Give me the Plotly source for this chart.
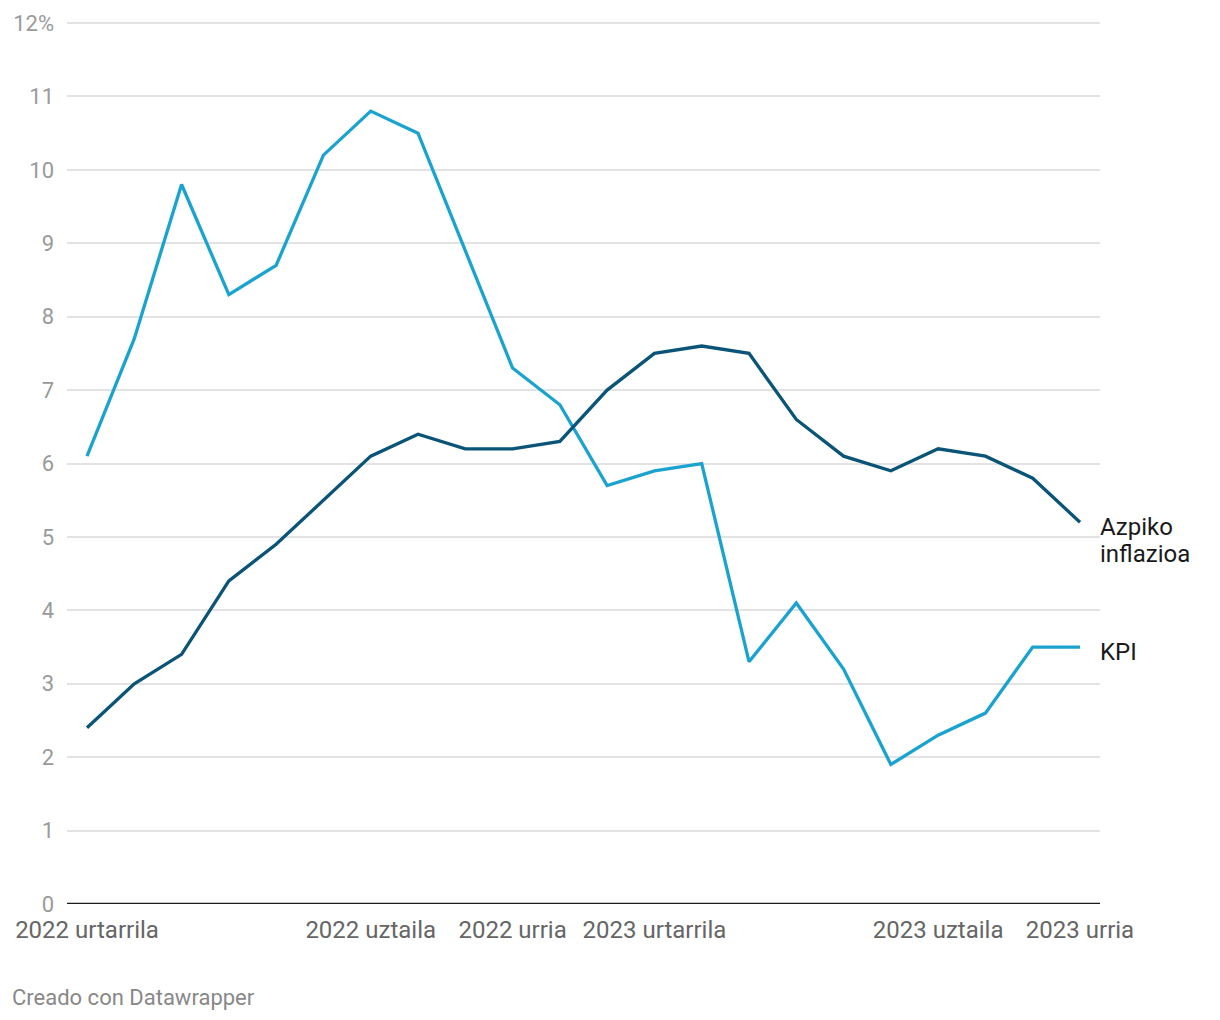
import plotly.graph_objects as go

months = ["2022-01","2022-02","2022-03","2022-04","2022-05","2022-06","2022-07","2022-08",
          "2022-09","2022-10","2022-11","2022-12","2023-01","2023-02","2023-03","2023-04",
          "2023-05","2023-06","2023-07","2023-08","2023-09","2023-10"]
kpi = [6.1, 7.7, 9.8, 8.3, 8.7, 10.2, 10.8, 10.5, 8.9, 7.3, 6.8, 5.7,
       5.9, 6.0, 3.3, 4.1, 3.2, 1.9, 2.3, 2.6, 3.5, 3.5]
azpiko = [2.4, 3.0, 3.4, 4.4, 4.9, 5.5, 6.1, 6.4, 6.2, 6.2, 6.3, 7.0,
          7.5, 7.6, 7.5, 6.6, 6.1, 5.9, 6.2, 6.1, 5.8, 5.2]
x_tick_idx = [0, 6, 9, 12, 18, 21]
x_tick_labels = ["2022 urtarrila", "2022 uztaila", "2022 urria",
                 "2023 urtarrila", "2023 uztaila", "2023 urria"]
y_ticks = list(range(0, 13))
y_tick_labels = [str(v) for v in range(0, 12)] + ["12%"]

x = list(range(len(months)))
c_kpi = "#1aa3cf"
c_az = "#0a5478"

# figure is drawn inside a page body with an 8px default margin
W, H = 1212, 1012
L, R, T, B = 59, 120, 12, 116
PW, PH = W - L - R, H - T - B

fig = go.Figure()
fig.add_trace(go.Scatter(x=x, y=kpi, mode="lines", line=dict(color=c_kpi, width=3.3),
                         name="KPI", hoverinfo="skip"))
fig.add_trace(go.Scatter(x=x, y=azpiko, mode="lines", line=dict(color=c_az, width=3.3),
                         name="Azpiko inflazioa", hoverinfo="skip"))

lab_font = dict(family="Roboto", size=24, color="#1a1a1a")
fig.add_annotation(x=x[-1], y=azpiko[-1], xref="x", yref="y", text="Azpiko",
                   showarrow=False, xanchor="left", yanchor="middle", xshift=18, yshift=-5,
                   align="left", font=lab_font)
fig.add_annotation(x=x[-1], y=azpiko[-1], xref="x", yref="y", text="inflazioa",
                   showarrow=False, xanchor="left", yanchor="middle", xshift=18, yshift=-32,
                   align="left", font=lab_font)
fig.add_annotation(x=x[-1], y=kpi[-1], xref="x", yref="y", text="KPI",
                   showarrow=False, xanchor="left", yanchor="middle", xshift=18, yshift=-5,
                   align="left", font=lab_font)
fig.add_annotation(x=(2 - L) / PW, y=(H - B - 989) / PH, xref="paper", yref="paper",
                   text="Creado con Datawrapper",
                   showarrow=False, xanchor="left", yanchor="middle",
                   font=dict(family="Roboto", size=22, color="#888888"))

fig.update_layout(
    width=W, height=H,
    margin=dict(l=L, r=R, t=T, b=B, autoexpand=False),
    paper_bgcolor="white", plot_bgcolor="white",
    showlegend=False,
    font=dict(family="Roboto"),
    xaxis=dict(range=[-0.423, 21.423], tickmode="array", tickvals=x_tick_idx,
               ticktext=x_tick_labels, showgrid=False, zeroline=False, ticks="",
               tickfont=dict(size=24, color="#666666"), showline=False,
               ticklabelstandoff=9, fixedrange=True, automargin=False),
    yaxis=dict(range=[0, 12.041], tickmode="array", tickvals=y_ticks, ticktext=y_tick_labels,
               showgrid=True, gridcolor="#e3e3e3", gridwidth=1.5, zeroline=False,
               ticks="", tickfont=dict(size=22, color="#9a9a9a"),
               ticklabelstandoff=12, showline=False, fixedrange=True, automargin=False),
)
fig.add_shape(type="line", xref="paper", yref="y", x0=0, x1=1, y0=0, y1=0,
              line=dict(color="#1a1a1a", width=2.5))

fig.write_html("out.html")
